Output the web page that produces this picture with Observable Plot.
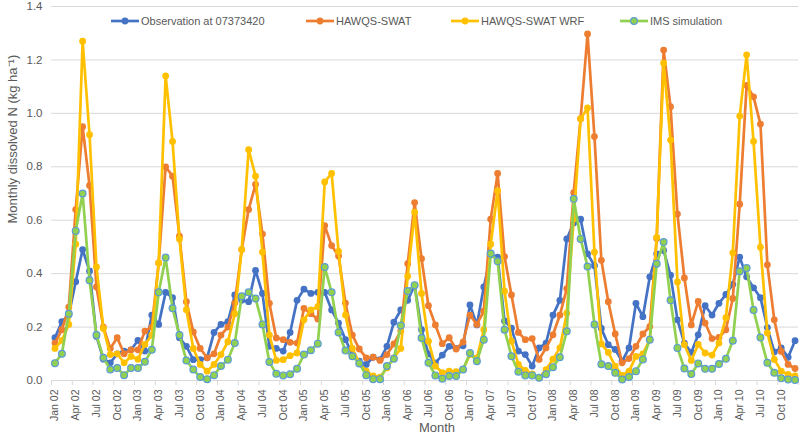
<!DOCTYPE html>
<html><head><meta charset="utf-8">
<script src="https://cdn.jsdelivr.net/npm/d3@7"></script>
<script src="https://cdn.jsdelivr.net/npm/@observablehq/plot@0.6"></script>
<style>
body{margin:0;background:#fff;font-family:"Liberation Sans",Arial,sans-serif}
#wrap{position:relative;width:800px;height:436px}
.leg{position:absolute;top:14px;height:14px;display:flex;align-items:center;font-size:11px;color:#595959;white-space:nowrap}
.leg svg{margin-right:2px}
</style>
</head><body><div id="wrap"></div>
<script>
const xLabels = ["Jan 02","Apr 02","Jul 02","Oct 02","Jan 03","Apr 03","Jul 03","Oct 03","Jan 04","Apr 04","Jul 04","Oct 04",
"Jan 05","Apr 05","Jul 05","Oct 05","Jan 06","Apr 06","Jul 06","Oct 06","Jan 07","Apr 07","Jul 07","Oct 07",
"Jan 08","Apr 08","Jul 08","Oct 08","Jan 09","Apr 09","Jul 09","Oct 09","Jan 10","Apr 10","Jul 10","Oct 10"];
const seriesNames = ["Observation at 07373420","HAWQS-SWAT","HAWQS-SWAT WRF","IMS simulation"];
const obs = [0.16,0.22,0.245,0.37,0.49,0.41,0.165,0.08,0.066,0.1,0.11,0.115,
0.15,0.11,0.245,0.21,0.33,0.31,0.16,0.128,0.078,0.078,0.085,0.18,
0.21,0.22,0.32,0.30,0.295,0.412,0.326,0.128,0.12,0.11,0.18,0.30,
0.342,0.326,0.33,0.33,0.264,0.215,0.153,0.097,0.072,0.06,0.087,0.078,
0.128,0.218,0.264,0.30,0.357,0.19,0.10,0.066,0.095,0.128,0.12,0.13,
0.283,0.208,0.35,0.47,0.462,0.223,0.196,0.11,0.097,0.054,0.122,0.14,
0.245,0.30,0.53,0.59,0.604,0.474,0.43,0.195,0.134,0.116,0.072,0.122,
0.289,0.239,0.388,0.474,0.487,0.394,0.227,0.14,0.105,0.171,0.28,0.245,
0.289,0.322,0.36,0.462,0.388,0.347,0.31,0.198,0.107,0.122,0.087,0.149];
const swat = [0.14,0.19,0.275,0.64,0.95,0.73,0.35,0.2,0.12,0.16,0.10,0.115,
0.115,0.185,0.2,0.44,0.80,0.765,0.54,0.295,0.182,0.12,0.085,0.10,
0.17,0.2,0.29,0.49,0.64,0.734,0.548,0.289,0.159,0.153,0.143,0.14,
0.27,0.25,0.23,0.58,0.505,0.466,0.29,0.17,0.118,0.085,0.087,0.075,
0.097,0.137,0.186,0.437,0.666,0.456,0.28,0.208,0.138,0.16,0.118,0.144,
0.245,0.21,0.26,0.604,0.775,0.464,0.32,0.18,0.153,0.157,0.079,0.122,
0.171,0.245,0.344,0.703,0.98,1.297,0.913,0.45,0.295,0.174,0.066,0.082,
0.128,0.174,0.202,0.532,1.237,1.025,0.623,0.384,0.208,0.296,0.215,0.157,
0.161,0.19,0.307,0.66,1.105,1.062,0.96,0.433,0.227,0.109,0.06,0.045];
const wrf = [0.12,0.15,0.21,0.51,1.27,0.92,0.425,0.195,0.097,0.1,0.066,0.09,
0.08,0.135,0.17,0.44,1.14,0.895,0.53,0.265,0.12,0.06,0.035,0.06,
0.097,0.145,0.25,0.49,0.864,0.765,0.48,0.17,0.075,0.078,0.093,0.103,
0.227,0.264,0.276,0.743,0.775,0.483,0.245,0.12,0.066,0.035,0.017,0.013,
0.047,0.085,0.12,0.39,0.63,0.326,0.147,0.054,0.029,0.035,0.033,0.041,
0.097,0.085,0.19,0.51,0.71,0.334,0.147,0.06,0.038,0.025,0.01,0.041,
0.08,0.122,0.252,0.605,0.98,1.02,0.48,0.137,0.105,0.054,0.019,0.035,
0.09,0.1,0.153,0.536,1.188,0.9,0.369,0.134,0.075,0.135,0.103,0.095,
0.14,0.235,0.478,0.99,1.219,0.895,0.499,0.178,0.079,0.035,0.023,0.017];
const ims = [0.065,0.10,0.25,0.56,0.70,0.375,0.17,0.085,0.041,0.047,0.02,0.047,
0.047,0.07,0.115,0.33,0.46,0.27,0.17,0.075,0.041,0.013,0.005,0.02,
0.054,0.078,0.14,0.315,0.33,0.307,0.21,0.069,0.025,0.019,0.023,0.044,
0.097,0.113,0.138,0.425,0.33,0.18,0.112,0.091,0.064,0.02,0.005,0.005,
0.054,0.081,0.206,0.335,0.357,0.159,0.066,0.019,0.007,0.017,0.017,0.041,
0.103,0.072,0.153,0.475,0.446,0.19,0.091,0.033,0.019,0.019,0.01,0.023,
0.05,0.087,0.184,0.68,0.53,0.427,0.21,0.061,0.054,0.029,0.004,0.013,
0.035,0.079,0.153,0.437,0.518,0.3,0.122,0.045,0.024,0.064,0.044,0.044,
0.062,0.081,0.149,0.409,0.421,0.264,0.161,0.066,0.029,0.008,0.004,0.002];

const colors = ["#4472C4","#ED7D31","#FFC000","#92D050"];
const dotStroke = ["#4472C4","#ED7D31","#FFC000","#5B9BD5"];
const allSeries = [obs, swat, wrf, ims];

const marks = [
  Plot.gridY({ticks: d3.range(0, 1.41, 0.2), stroke: "#d9d9d9", strokeOpacity: 1}),
  Plot.axisY({ticks: d3.range(0, 1.41, 0.2), tickSize: 0, tickPadding: 9, tickFormat: d3.format(".1f"), fontSize: 11.5, fill: "#595959", label: null}),
  Plot.axisX({ticks: d3.range(-0.5, 108, 3), tickSize: 5, tickFormat: () => "", stroke: "#d9d9d9", label: null}),
  Plot.axisX({ticks: d3.range(0, 108, 3), tickSize: 0, tickPadding: 9, tickRotate: -90, tickFormat: d => xLabels[Math.round(d/3)], fontSize: 10.5, fill: "#595959", label: null}),
  Plot.text(["Monthly dissolved N (kg ha\u207B\u00B9)"], {frameAnchor: "left", rotate: -90, dx: -39, dy: 30, fontSize: 13, fill: "#595959"}),
  Plot.text(["Month"], {frameAnchor: "bottom", dy: 51, dx: 12, fontSize: 13, fill: "#595959"})
];
allSeries.forEach((s, k) => {
  const rows = s.map((v, i) => ({i, v}));
  marks.push(Plot.line(rows, {x: "i", y: "v", stroke: colors[k], strokeWidth: 2.7}));
  marks.push(Plot.dot(rows, {x: "i", y: "v", r: 3.4, fill: colors[k], stroke: dotStroke[k], strokeWidth: k === 3 ? 1.2 : 0}));
});

const chart = Plot.plot({
  width: 800, height: 436,
  marginLeft: 51, marginRight: 2, marginTop: 6, marginBottom: 56,
  style: {fontFamily: "'Liberation Sans', Arial, sans-serif", background: "#fff", overflow: "visible"},
  x: {domain: [-0.5, 107.5]},
  y: {domain: [0, 1.4]},
  marks
});
const wrap = document.getElementById("wrap");
wrap.appendChild(chart);

const legLeft = [111, 306, 451, 620];
seriesNames.forEach((name, k) => {
  const d = document.createElement("div");
  d.className = "leg";
  d.style.left = legLeft[k] + "px";
  d.innerHTML = `<svg width="28" height="14"><line x1="0" x2="28" y1="7" y2="7" stroke="${colors[k]}" stroke-width="2.7"/><circle cx="14" cy="7" r="3.4" fill="${colors[k]}" stroke="${dotStroke[k]}" stroke-width="${k===3?1.2:0}"/></svg>`;
  const t = document.createElement("span");
  t.textContent = name;
  d.appendChild(t);
  wrap.appendChild(d);
});
</script>
</body></html>
